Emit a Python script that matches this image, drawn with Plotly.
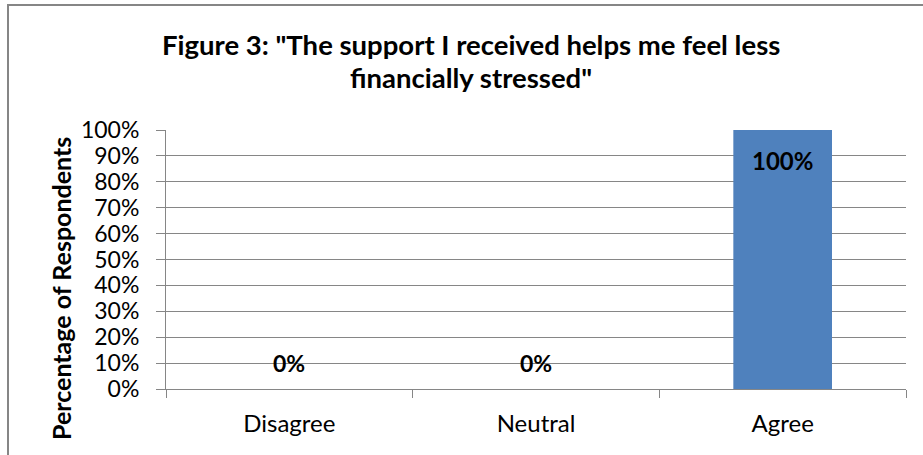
import plotly.graph_objects as go

# Survey responses
categories = ["Disagree", "Neutral", "Agree"]
shares = [0.0, 0.0, 1.0]
label_texts = ["0%", "0%", "100%"]
y_ticks = [i / 10 for i in range(11)]
title_lines = ["Figure 3: \"The support I received helps me feel less", "financially stressed\""]
y_title = "Percentage of Respondents"

W, H = 923, 455
L, R, T, B = 166, 17, 130, 66
PW, PH = W - L - R, H - T - B

def px_x(px):
    return (px - L) / PW

def px_y(py):
    return (H - B - py) / PH

grey = "#868686"
font_family = "Lato, 'Open Sans', sans-serif"

fig = go.Figure()
fig.add_trace(go.Bar(
    x=categories,
    y=shares,
    width=0.4,
    marker=dict(color="#4F81BD", line=dict(width=0)),
    hoverinfo="skip",
))

# Value labels: inside the top of a full bar, just above the baseline for empty ones
for cat, val, txt in zip(categories, shares, label_texts):
    fig.add_annotation(
        x=cat, y=val, text=f"<b>{txt}</b>", showarrow=False,
        xref="x", yref="y", yanchor="middle",
        yshift=-30 if val > 0.5 else 26,
        font=dict(family=font_family, size=23 if val < 0.5 else 24, color="#000000"),
    )

# Chart title, one annotation per line
for line, cy in zip(title_lines, [44, 77]):
    fig.add_annotation(
        xref="paper", yref="paper", x=px_x(471), y=px_y(cy), xanchor="center", yanchor="middle",
        text=f"<b>{line}</b>", showarrow=False,
        font=dict(family=font_family, size=27.5, color="#000000"),
    )

# Y axis title
fig.add_annotation(
    xref="paper", yref="paper", x=px_x(61), y=px_y(289), xanchor="center", yanchor="middle",
    text=f"<b>{y_title}</b>", textangle=-90, showarrow=False,
    font=dict(family=font_family, size=25, color="#000000"),
)

# Outer frame of the chart area
fig.add_shape(
    type="rect", xref="paper", yref="paper",
    x0=px_x(8), x1=px_x(935), y0=px_y(5), y1=px_y(470),
    line=dict(color=grey, width=2), fillcolor="rgba(0,0,0,0)", layer="below",
)

fig.update_layout(
    width=W, height=H,
    margin=dict(l=L, r=R, t=T, b=B, pad=0),
    paper_bgcolor="white", plot_bgcolor="white",
    showlegend=False,
    font=dict(family=font_family, size=18, color="#000000"),
)
fig.update_xaxes(
    type="category", tickson="boundaries", ticks="outside", ticklen=8,
    tickcolor=grey, tickwidth=1, showline=True, linecolor=grey, linewidth=1,
    showgrid=False, ticklabelstandoff=13,
    tickfont=dict(family=font_family, size=24),
)
fig.update_yaxes(
    range=[0, 1], tickvals=y_ticks, tickformat=".0%", ticks="outside", ticklen=9,
    tickcolor=grey, tickwidth=1, showline=True, linecolor=grey, linewidth=1,
    showgrid=True, gridcolor=grey, gridwidth=1, zeroline=False,
    ticklabelstandoff=12, fixedrange=True,
    tickfont=dict(family=font_family, size=23),
)

fig.write_html("out.html")
